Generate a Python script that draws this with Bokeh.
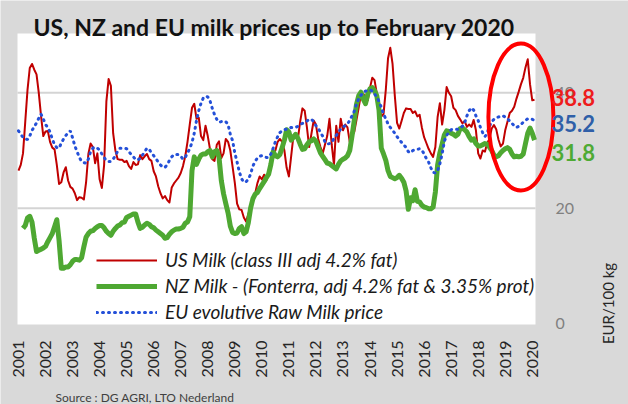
import math
from bokeh.plotting import figure
from bokeh.models import Range1d, FixedTicker, Label, Legend, LegendItem, BoxAnnotation
from bokeh.embed import file_html
from bokeh.resources import INLINE

# ---------------- data (monthly, Jan 2001 .. Feb 2020, EUR/100 kg) ----------------
first_year = 2001
years = list(range(2001, 2021))

us_milk = [
    26.5, 27.5, 29.5, 35.0, 40.5, 44.3, 45.0, 44.0, 43.2, 40.0,
    36.0, 32.5, 33.3, 33.4, 31.5, 30.5, 30.2, 27.5, 24.2, 24.5,
    26.2, 27.1, 24.8, 23.7, 23.4, 22.6, 21.4, 21.9, 21.8, 21.5,
    24.5, 29.4, 31.2, 30.6, 27.8, 29.5, 25.0, 23.5, 27.5, 38.5,
    42.4, 41.2, 33.0, 30.0, 28.5, 28.4, 28.4, 28.0, 28.2, 27.3,
    26.8, 28.0, 27.5, 27.6, 29.2, 28.5, 29.0, 29.4, 28.5, 28.2,
    26.4, 25.5, 23.8, 22.6, 21.7, 22.1, 21.4, 21.0, 23.6, 24.3,
    24.8, 25.3, 26.1, 27.3, 29.0, 31.5, 34.5, 37.4, 38.1, 35.5,
    35.7, 32.5, 31.8, 34.3, 32.5, 30.2, 28.5, 28.2, 31.0, 31.6,
    28.7, 29.5, 32.0, 31.5, 30.0, 27.2, 24.4, 20.8, 19.8, 19.7,
    18.4, 17.7, 19.0, 20.0, 21.6, 22.5, 24.3, 25.5, 25.0, 25.8,
    24.8, 26.0, 27.7, 29.6, 30.0, 31.5, 32.0, 31.5, 30.0, 27.0,
    25.5, 29.0, 32.5, 32.5, 32.0, 35.0, 37.3, 36.9, 34.0, 30.6,
    32.9, 35.2, 34.5, 32.0, 30.6, 29.5, 31.0, 32.5, 35.5, 31.0,
    27.5, 34.3, 31.5, 35.5, 33.5, 34.5, 34.0, 31.5, 32.5, 33.2,
    35.3, 37.5, 39.8, 39.8, 39.3, 38.7, 40.9, 42.6, 42.2, 39.9,
    38.2, 35.9, 36.3, 40.5, 46.0, 47.8, 45.0, 39.5, 34.8, 33.8,
    35.1, 36.5, 37.3, 37.2, 37.2, 36.5, 36.8, 35.9, 36.2, 34.0,
    32.3, 31.3, 30.3, 29.5, 28.9, 30.6, 35.8, 38.2, 34.5, 37.0,
    41.0, 40.0, 39.4, 37.4, 37.0, 36.0, 35.4, 34.7, 35.1, 34.1,
    34.5, 34.1, 35.3, 33.5, 29.5, 28.6, 30.0, 29.8, 31.3, 32.0,
    33.8, 34.4, 33.7, 31.9, 30.7, 31.2, 33.5, 35.0, 36.5, 36.9,
    37.6, 39.0, 40.2, 41.5, 42.6, 44.4, 45.8, 41.5, 38.7, 38.8,
]

nan = float("nan")
nz_milk = [
    nan, nan, 16.5, 17.0, 18.3, 18.6, 17.6, 14.8, 12.5, 12.7,
    12.9, 13.1, 13.4, 14.2, 14.9, 15.6, 16.8, 18.0, 14.4, 9.6,
    9.6, 9.8, 9.8, 10.2, 10.8, 11.1, 11.1, 11.0, 11.4, 13.3,
    15.0, 15.6, 16.0, 16.1, 16.5, 16.8, 17.0, 17.0, 16.6, 16.0,
    15.6, 15.3, 16.0, 16.5, 16.9, 17.1, 17.5, 17.6, 18.4, 18.6,
    18.8, 19.0, 19.0, 17.6, 16.5, 16.7, 17.1, 17.4, 17.2, 16.8,
    16.6, 16.2, 15.9, 15.6, 15.3, 14.8, 14.9, 15.5, 15.9, 16.2,
    16.4, 16.4, 16.5, 16.7, 17.4, 17.6, 18.5, 26.5, 28.9, 27.6,
    28.5, 29.2, 29.4, 29.4, 29.8, 30.0, 28.9, 29.8, 30.0, 28.8,
    24.8, 22.5, 20.8, 19.2, 16.9, 15.8, 15.6, 15.7, 16.5, 16.8,
    15.6, 15.9, 17.5, 20.0, 21.6, 22.4, 22.7, 23.4, 24.0, 24.6,
    25.3, 25.9, 27.6, 29.8, 29.1, 28.9, 29.3, 30.5, 31.8, 33.6,
    33.2, 31.8, 32.3, 32.8, 32.1, 31.1, 30.2, 30.3, 31.0, 31.5,
    31.7, 32.0, 31.6, 30.6, 29.6, 29.0, 28.4, 27.8, 27.7, 27.4,
    27.1, 26.8, 27.6, 28.2, 28.5, 28.7, 29.1, 30.0, 32.5, 35.2,
    38.0, 39.5, 40.1, 38.9, 38.1, 39.8, 40.7, 40.9, 40.4, 39.5,
    37.0, 30.4, 29.4, 28.3, 26.5, 25.5, 25.3, 25.1, 25.3, 25.7,
    25.2, 24.5, 23.0, 19.8, 21.8, 21.3, 23.2, 21.2, 21.1, 20.5,
    20.2, 20.1, 19.9, 19.9, 20.2, 22.8, 27.5, 29.6, 31.1, 32.7,
    33.4, 33.3, 33.0, 32.8, 32.5, 32.8, 33.8, 33.9, 33.6, 33.2,
    32.4, 31.8, 32.0, 31.2, 30.8, 30.8, 31.0, 31.2, 31.1, 30.6,
    30.0, 29.2, 28.9, 29.1, 29.6, 30.0, 30.3, 30.5, 30.2, 29.4,
    28.9, 29.0, 28.9, 29.0, 29.4, 31.2, 33.0, 33.9, 33.0, 31.8,
]

eu_milk = [
    33.4, 32.8, 32.3, 32.0, 31.9, 32.5, 33.5, 34.1, 34.8, 35.6,
    36.3, 35.5, 34.5, 34.0, 33.2, 32.0, 31.0, 30.5, 30.4, 31.3,
    32.0, 32.6, 33.1, 33.4, 32.2, 30.8, 29.8, 28.8, 28.1, 27.9,
    27.8, 28.5, 29.8, 30.4, 30.6, 30.4, 30.1, 29.4, 28.8, 28.2,
    28.1, 28.1, 28.5, 29.1, 29.9, 30.4, 30.4, 30.4, 30.3, 29.8,
    29.3, 28.9, 28.4, 28.4, 28.6, 29.2, 29.8, 30.4, 30.2, 29.6,
    29.1, 28.6, 28.0, 27.5, 27.1, 27.1, 27.5, 28.3, 28.9, 29.3,
    29.3, 29.3, 29.0, 28.5, 28.8, 29.6, 30.3, 31.4, 33.0, 35.2,
    36.9, 38.2, 39.1, 39.4, 39.3, 38.6, 37.3, 36.2, 35.4, 34.9,
    35.0, 35.1, 35.0, 34.5, 32.8, 31.7, 29.6, 28.0, 26.3, 25.1,
    24.5, 24.6, 25.0, 25.9, 27.3, 28.1, 28.7, 29.0, 29.1, 28.9,
    28.8, 28.8, 29.4, 30.4, 31.5, 32.4, 33.1, 33.4, 33.6, 33.7,
    33.8, 34.0, 34.0, 34.0, 34.2, 34.5, 34.7, 34.9, 35.1, 35.4,
    35.4, 35.0, 34.3, 33.9, 33.1, 32.5, 31.5, 31.1, 31.2, 31.4,
    32.1, 32.6, 33.2, 33.7, 34.1, 34.3, 34.6, 35.2, 36.0, 36.8,
    38.1, 39.0, 39.6, 40.0, 40.3, 40.4, 40.5, 40.3, 39.8, 39.3,
    38.5, 37.5, 36.3, 35.5, 34.6, 34.0, 33.5, 33.0, 32.4, 31.9,
    31.4, 31.0, 30.5, 29.8, 29.6, 30.0, 30.1, 30.2, 30.3, 30.1,
    29.4, 28.6, 28.0, 27.0, 26.2, 26.1, 26.5, 27.7, 29.4, 31.6,
    32.6, 33.2, 33.6, 33.7, 33.7, 33.7, 33.9, 34.2, 34.8, 36.0,
    36.9, 37.4, 37.0, 36.0, 35.2, 34.0, 33.1, 32.4, 33.0, 34.2,
    35.0, 35.4, 35.7, 35.8, 36.0, 36.0, 35.8, 35.5, 35.1, 34.7,
    34.3, 34.0, 34.2, 34.5, 34.9, 35.2, 35.5, 35.5, 35.4, 35.2,
]

series_names = [
    "US Milk (class III adj 4.2% fat)",
    "NZ Milk - (Fonterra, adj 4.2% fat & 3.35% prot)",
    "EU evolutive Raw Milk price",
]
y_ticks = [0, 20, 40]

x = [first_year + i / 12 for i in range(len(us_milk))]

# ---------------- layout geometry (the frame covers the whole canvas) ----------------
W, H = 628, 404
PX_PER_YEAR = 27.04           # horizontal scale
PX_PER_UNIT = 5.77            # vertical scale (EUR/100 kg)
X_LEFT = first_year - 18 / PX_PER_YEAR    # data x at the canvas left edge
Y_TOP = 323.1 / PX_PER_UNIT               # data y at the canvas top edge


def xd(px):
    return X_LEFT + px / PX_PER_YEAR


def yd(py):
    return Y_TOP - py / PX_PER_UNIT


AREA_L, AREA_R, AREA_T, AREA_B = xd(17), xd(535), yd(33), yd(324)

FONT = "Lato"
p = figure(width=W, height=H, output_backend="svg", toolbar_location=None,
           x_range=Range1d(xd(0), xd(W)), y_range=Range1d(yd(H), yd(0)),
           y_axis_location="right", min_border=0,
           background_fill_color="#d9d9d9", border_fill_color="#d9d9d9",
           outline_line_color=None)

# white plot area
p.add_layout(BoxAnnotation(left=AREA_L, right=AREA_R, top=AREA_T, bottom=AREA_B,
                           fill_color="white", fill_alpha=1, line_color=None,
                           level="underlay"))

xa = p.xaxis[0]
xa.fixed_location = AREA_B
xa.ticker = FixedTicker(ticks=years)
xa.major_label_overrides = {yv: str(yv) for yv in years}
xa.major_label_orientation = math.pi / 2
xa.axis_line_color = None
xa.major_tick_line_color = None
xa.minor_tick_line_color = None
xa.major_tick_out = 0
xa.major_tick_in = 0
xa.major_label_standoff = 16
xa.major_label_text_font = FONT
xa.major_label_text_font_size = "16px"
xa.major_label_text_color = "#262626"

ya = p.yaxis[0]
ya.fixed_location = AREA_R
ya.ticker = FixedTicker(ticks=y_ticks)
ya.axis_line_color = None
ya.major_tick_line_color = None
ya.minor_tick_line_color = None
ya.major_tick_out = 0
ya.major_tick_in = 0
ya.major_label_standoff = 20
ya.major_label_text_font = FONT
ya.major_label_text_font_size = "16px"
ya.major_label_text_color = "#808080"

p.xgrid.visible = False
p.ygrid.visible = False
grid_vals = [t for t in y_ticks if t > 0]
p.segment(x0=[AREA_L] * len(grid_vals), y0=grid_vals, x1=[AREA_R] * len(grid_vals),
          y1=grid_vals, line_color="#d4d4d4", line_width=2)

US_C, NZ_C, EU_C = "#c00000", "#4ea832", "#2450d8"
r_us = p.line(x, us_milk, line_color=US_C, line_width=2, line_join="round")
r_nz = p.line(x, nz_milk, line_color=NZ_C, line_width=5, line_join="round")
r_eu = p.line(x, eu_milk, line_color=EU_C, line_width=3, line_dash="1 5", line_cap="round")

# highlight ellipse around the latest months
p.ellipse(x=[2019.58], y=[35.8], width=65, height=147, width_units="screen",
          height_units="screen", fill_color=None, line_color="#ff0000", line_width=4)

legend = Legend(items=[LegendItem(label=series_names[0], renderers=[r_us]),
                       LegendItem(label=series_names[1], renderers=[r_nz]),
                       LegendItem(label=series_names[2], renderers=[r_eu])],
                location=(96, 81), glyph_width=61, glyph_height=20, label_height=20,
                spacing=3, padding=0, margin=0, label_standoff=8,
                border_line_color=None, background_fill_alpha=0,
                label_text_font=FONT, label_text_font_style="italic",
                label_text_font_size="19px", label_text_color="#1a1a1a")
p.add_layout(legend)

# title
p.add_layout(Label(x=33, y=H - 26, x_units="screen", y_units="screen",
                   text="US, NZ and EU milk prices up to February 2020",
                   text_font=FONT, text_font_style="bold", text_font_size="23px",
                   text_color="#111111", text_baseline="alphabetic"))
# unit label
p.add_layout(Label(x=607, y=H - 303, x_units="screen", y_units="screen", angle=90,
                   angle_units="deg", text="EUR/100 kg", text_align="center",
                   text_baseline="middle", text_font=FONT, text_font_size="15px",
                   text_color="#262626"))
# source
p.add_layout(Label(x=55, y=H - 397, x_units="screen", y_units="screen",
                   text="Source : DG AGRI, LTO Nederland", text_baseline="middle",
                   text_font=FONT, text_font_size="12px", text_color="#404040"))

# latest values
for vals, col, off in [(us_milk, "#ee1c1c", 2), (eu_milk, "#2f5fa8", -3), (nz_milk, "#4eaa34", -12)]:
    last = vals[-1]
    p.add_layout(Label(x=551, x_units="screen", y=last, y_units="data", y_offset=off,
                       text=f"{last:.1f}", text_baseline="middle", text_font=FONT,
                       text_font_style="bold", text_font_size="22px", text_color=col))

open("out.html", "w").write(file_html(p, INLINE))
